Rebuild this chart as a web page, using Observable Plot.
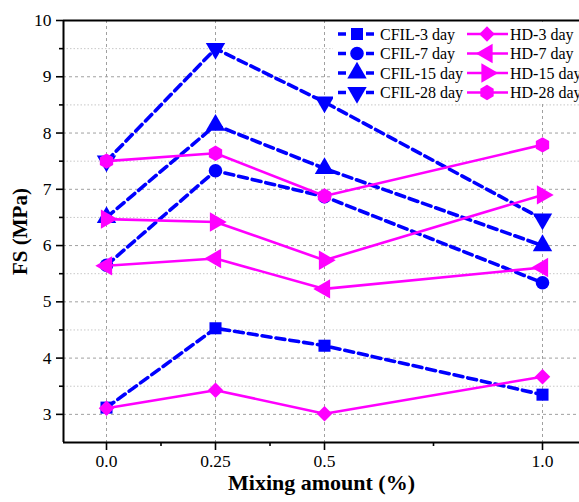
<!DOCTYPE html>
<html>
<head>
<meta charset="utf-8">
<script src="https://cdn.jsdelivr.net/npm/d3@7"></script>
<script src="https://cdn.jsdelivr.net/npm/@observablehq/plot@0.6"></script>
<style>
  html, body { margin: 0; padding: 0; background: #fff; overflow: hidden; }
  #wrap { position: relative; width: 579px; height: 502px; font-family: "Liberation Serif", "DejaVu Serif", serif; }
  #legend { position: absolute; left: 333px; top: 22px; width: 246px; height: 82px; background: #fff; }
  #chart svg text, #legend svg text { font-family: "Liberation Serif", "DejaVu Serif", serif !important; }
</style>
</head>
<body>
<div id="wrap"><div id="chart"></div><div id="legend"></div></div>
<script>
// ---- data ----
const xValues = [0, 0.25, 0.5, 1.0];
const xTickLabels = ["0.0", "0.25", "0.5", "1.0"];
const yMajorTicks = [3, 4, 5, 6, 7, 8, 9, 10];
const yMinorTicks = [3.5, 4.5, 5.5, 6.5, 7.5, 8.5, 9.5];
const xMinorTicks = [0.125, 0.375, 0.75];

const cfilSeries = ["CFIL-3 day", "CFIL-7 day", "CFIL-15 day", "CFIL-28 day"];
const hdSeries = ["HD-3 day", "HD-7 day", "HD-15 day", "HD-28 day"];

const cfil3 = [3.12, 4.53, 4.22, 3.35];
const cfil7 = [5.65, 7.33, 6.87, 5.34];
const cfil15 = [6.50, 8.14, 7.37, 6.00];
const cfil28 = [7.50, 9.50, 8.55, 6.47];
const hd3 = [3.11, 3.43, 3.01, 3.67];
const hd7 = [5.64, 5.77, 5.23, 5.61];
const hd15 = [6.47, 6.42, 5.74, 6.90];
const hd28 = [7.50, 7.64, 6.88, 7.79];

const cfilValues = [cfil3, cfil7, cfil15, cfil28];
const hdValues = [hd3, hd7, hd15, hd28];

// ---- custom symbols ----
const sqrt3 = Math.sqrt(3);
function tri(dir) {
  return {
    draw(ctx, size) {
      const y = -Math.sqrt(size / (sqrt3 * 3));
      let pts = [[0, y * 2], [-sqrt3 * y, -y], [sqrt3 * y, -y]];
      if (dir === "down") pts = pts.map(([a, b]) => [a, -b]);
      if (dir === "left") pts = pts.map(([a, b]) => [b, a]);
      if (dir === "right") pts = pts.map(([a, b]) => [-b, a]);
      ctx.moveTo(pts[0][0], pts[0][1]);
      ctx.lineTo(pts[1][0], pts[1][1]);
      ctx.lineTo(pts[2][0], pts[2][1]);
      ctx.closePath();
    }
  };
}
const hexagon = {
  draw(ctx, size) {
    const r = Math.sqrt(size / (1.5 * sqrt3));
    for (let i = 0; i < 6; i++) {
      const a = Math.PI / 6 + i * Math.PI / 3;
      const px = r * Math.cos(a), py = r * Math.sin(a);
      if (i === 0) ctx.moveTo(px, py); else ctx.lineTo(px, py);
    }
    ctx.closePath();
  }
};
const cfilSymbols = [d3.symbolSquare, d3.symbolCircle, tri("up"), tri("down")];
const hdSymbols = [d3.symbolDiamond2, tri("left"), tri("right"), hexagon];
const cfilR = [6.8, 6.8, 7.2, 7.2];
const hdR = [7.0, 7.2, 7.2, 7.0];
const BLUE = "#0000ff", MAG = "#ff00ff";
const FONT = "Liberation Serif, DejaVu Serif, serif";

const cfilRows = cfilSeries.map((s, i) => xValues.map((x, j) => ({series: s, x, y: cfilValues[i][j]})));
const hdRows = hdSeries.map((s, i) => xValues.map((x, j) => ({series: s, x, y: hdValues[i][j]})));

const xmin = -43 / 436, xmax = (579 - 106) / 436;

const marks = [
  Plot.gridY({ticks: yMinorTicks, stroke: "#c8c8c8", strokeOpacity: 1, strokeDasharray: "1.5,2", strokeWidth: 1}),
  Plot.gridY({ticks: yMajorTicks.filter(d => d < 10), stroke: "#a0a0a0", strokeOpacity: 1, strokeDasharray: "3,3", strokeWidth: 1}),
  Plot.gridX({ticks: xValues, stroke: "#a0a0a0", strokeOpacity: 1, strokeDasharray: "3,3", strokeWidth: 1}),
  Plot.axisY({ticks: yMajorTicks, tickSize: 7, tickPadding: 5, tickFormat: d => String(d), label: null, fontSize: 17.5, strokeWidth: 1.6}),
  Plot.axisY({ticks: yMinorTicks, tickSize: 4, tickFormat: () => "", label: null, strokeWidth: 1.6}),
  Plot.axisX({ticks: xValues, tickSize: 8, tickPadding: 4, tickFormat: d => xTickLabels[xValues.indexOf(d)], label: null, fontSize: 17.5, strokeWidth: 1.6}),
  Plot.axisX({ticks: xMinorTicks, tickSize: 4, tickFormat: () => "", label: null, strokeWidth: 1.6}),
  Plot.ruleY([2.5], {strokeWidth: 2}),
  Plot.ruleY([10], {strokeWidth: 2}),
  Plot.ruleX([xmin], {strokeWidth: 2}),
  ...cfilRows.map(rows => Plot.line(rows, {x: "x", y: "y", stroke: BLUE, strokeWidth: 3.6, strokeDasharray: "9,5"})),
  ...cfilRows.map((rows, i) => Plot.dot(rows, {x: "x", y: "y", symbol: cfilSymbols[i], r: cfilR[i], fill: BLUE, stroke: "none"})),
  ...hdRows.map(rows => Plot.line(rows, {x: "x", y: "y", stroke: MAG, strokeWidth: 2.6})),
  ...hdRows.map((rows, i) => Plot.dot(rows, {x: "x", y: "y", symbol: hdSymbols[i], r: hdR[i], fill: MAG, stroke: "none"})),
  Plot.text(["FS (MPa)"], {frameAnchor: "left", dx: -43, rotate: -90, fontSize: 21, fontWeight: "bold", textAnchor: "middle", lineAnchor: "middle"}),
  Plot.text(["Mixing amount (%)"], {frameAnchor: "bottom", dy: 40, fontSize: 22, fontWeight: "bold", textAnchor: "middle", lineAnchor: "middle"})
];

const chart = Plot.plot({
  width: 579, height: 502,
  marginTop: 20, marginBottom: 60, marginLeft: 63, marginRight: 0,
  x: {domain: [xmin, xmax]},
  y: {domain: [2.5, 10]},
  style: {fontFamily: FONT, fontSize: "16px", color: "black", background: "white", overflow: "visible"},
  marks
});
document.getElementById("chart").appendChild(chart);

// ---- legend ----
const lsvg = d3.select("#legend").append("svg").attr("width", 246).attr("height", 82)
  .attr("font-family", FONT).attr("font-size", 16);
const rowY = [12, 31.5, 51, 70.5];
function legendCol(series, symbols, rs, color, dashed, x0, x1, xm, xt) {
  series.forEach((s, i) => {
    const y = rowY[i];
    const ln = lsvg.append("line").attr("x1", x0).attr("x2", x1).attr("y1", y).attr("y2", y)
      .attr("stroke", color).attr("stroke-width", dashed ? 3.6 : 2.6);
    if (dashed) ln.attr("stroke-dasharray", "8,6");
    lsvg.append("path").attr("d", d3.symbol(symbols[i], Math.PI * rs[i] * rs[i])())
      .attr("transform", `translate(${xm},${y})`).attr("fill", color);
    lsvg.append("text").attr("x", xt).attr("y", y).attr("dy", "0.35em").text(s);
  });
}
legendCol(cfilSeries, cfilSymbols, cfilR, BLUE, true, 5, 44, 24, 47);
legendCol(hdSeries, hdSymbols, hdR, MAG, false, 134, 175, 154, 177);
</script>
</body>
</html>
